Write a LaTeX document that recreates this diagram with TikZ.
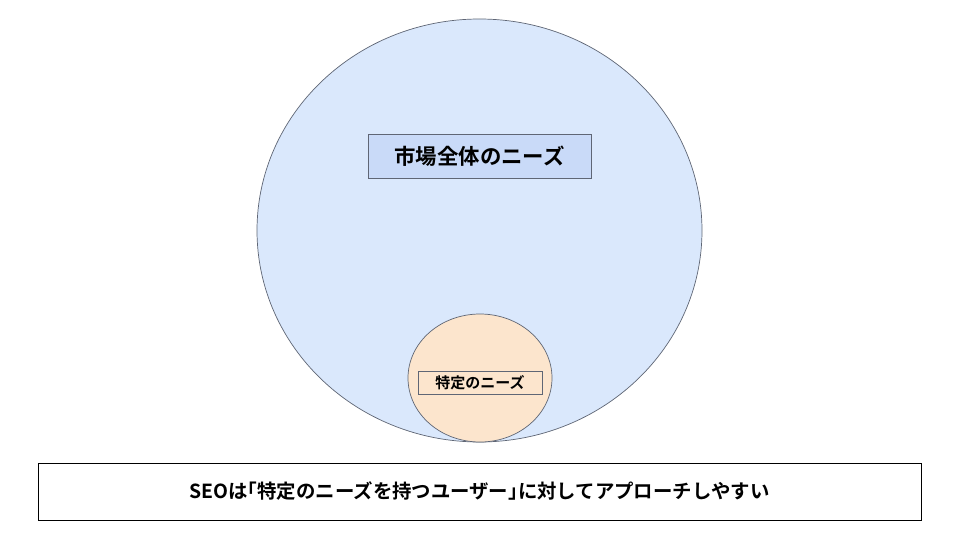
\documentclass[tikz,border=0pt]{standalone}
\usepackage{fontspec}
\newfontfamily\jp{Noto Sans CJK JP Bold}
\definecolor{bigfill}{HTML}{DAE8FC}
\definecolor{bigbox}{HTML}{C9DAF8}
\definecolor{peach}{HTML}{FCE5CD}
\definecolor{edge}{HTML}{5F6675}
\tikzset{
  circ/.style={ellipse, draw=edge, line width=0.7pt, inner sep=0pt},
  lab/.style={draw=edge, line width=0.7pt, inner sep=0pt, font=\jp},
}
\usetikzlibrary{shapes.geometric}
\begin{document}
\begin{tikzpicture}[x=1pt,y=-1pt]
\useasboundingbox (0,0) rectangle (960,540);
\fill[white] (0,0) rectangle (960,540);
\node[circ, fill=bigfill, minimum width=445pt, minimum height=423pt] (big) at (479.5,230.5) {};
\node[circ, fill=peach, minimum width=144pt, minimum height=128pt] (small) at (480,378) {};
\node[lab, fill=bigbox, minimum width=223pt, minimum height=44pt, font=\jp\fontsize{21.4}{24}\selectfont] (bl) at (479.5,156) {市場全体のニーズ};
\node[lab, fill=peach, minimum width=124pt, minimum height=23pt, font=\jp\fontsize{15}{17}\selectfont] (sl) at (480,382.5) {特定のニーズ};
\node[lab, draw=black, fill=white, minimum width=883pt, minimum height=57pt, font=\jp\fontsize{19.4}{22}\selectfont] (note) at (479.5,491.5) {SEOは｢特定のニーズを持つユーザー｣に対してアプローチしやすい};
\end{tikzpicture}
\end{document}
